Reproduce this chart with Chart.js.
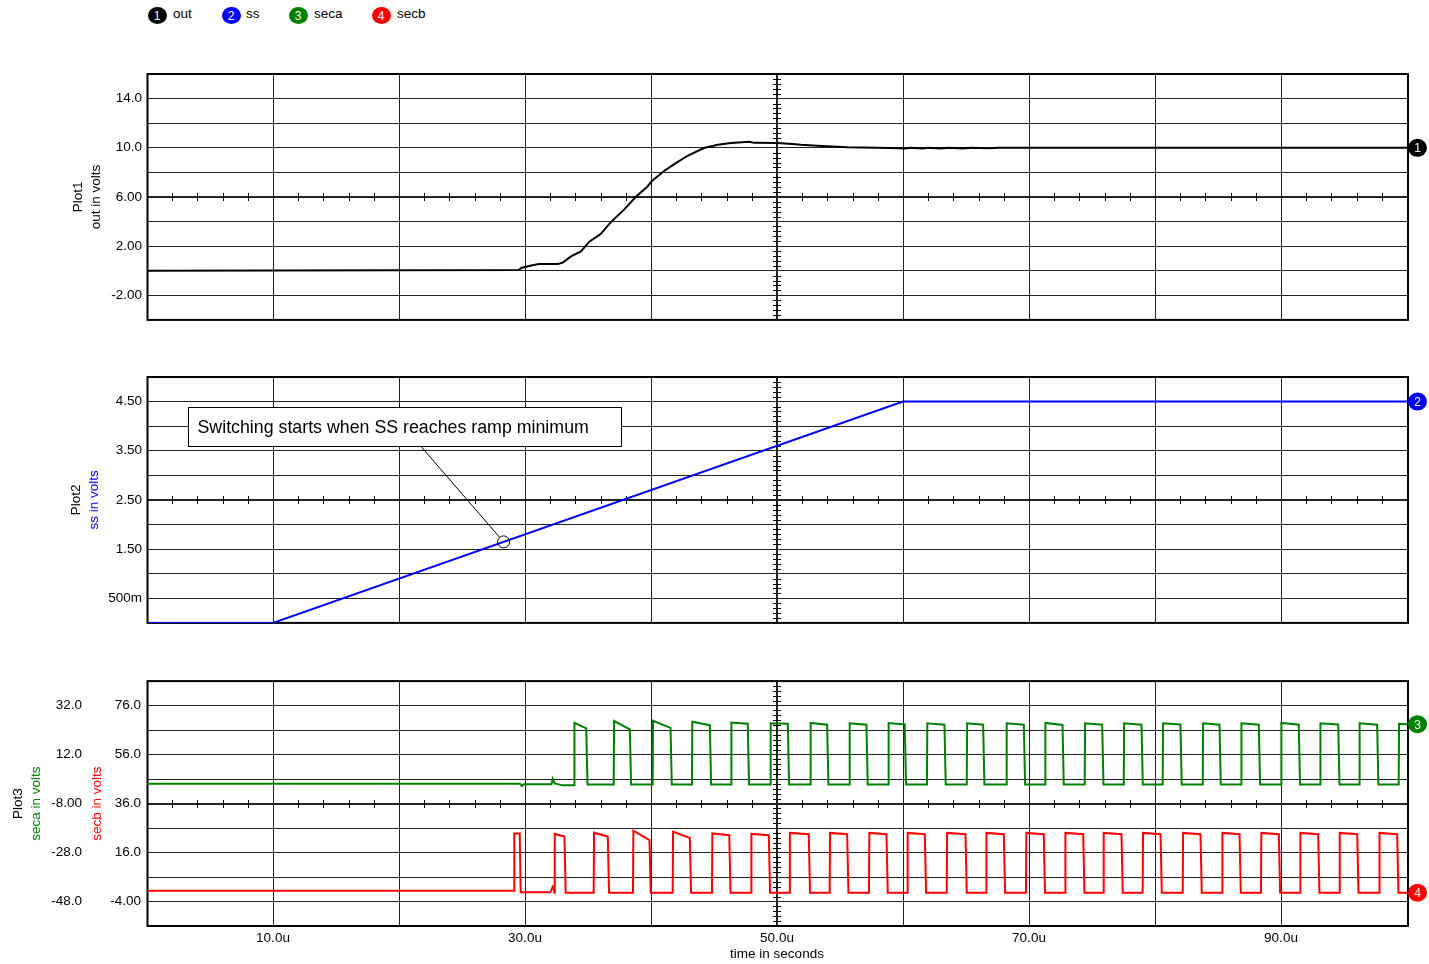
<!DOCTYPE html>
<html>
<head>
<meta charset="utf-8">
<title>Soft-start transient</title>
<script src="https://cdn.jsdelivr.net/npm/chart.js@4.4.0/dist/chart.umd.min.js"></script>
<style>
  html, body { margin: 0; padding: 0; background: #fff; }
  body { width: 1429px; height: 964px; position: relative; overflow: hidden;
         font-family: "Liberation Sans", Arial, sans-serif; }
  canvas { position: absolute; left: 0; }
  .lg-dot { position: absolute; width: 19px; height: 17px; border-radius: 50%;
            color: #fff; font-size: 12px; line-height: 18px; text-align: center; }
  .lg-txt { position: absolute; font-size: 13.5px; line-height: 18px; color: #000; }
</style>
</head>
<body>
<div id="legend"></div>
<canvas id="plot1" width="1429" height="273" style="top:60px"></canvas>
<canvas id="plot2" width="1429" height="273" style="top:363px"></canvas>
<canvas id="plot3" width="1429" height="297" style="top:667px"></canvas>
<script>
// ---------------- series values (time in µs, values in volts) ----------------
const seriesNames  = ['out', 'ss', 'seca', 'secb'];
const seriesColors = ['#000000', '#0000ff', '#008000', '#ff0000'];

// output voltage
const outTime  = [0, 29.5, 29.7, 30.5, 31.1, 32.6, 33.0, 33.65, 34.44, 35.1, 36.0, 36.8, 37.9, 38.8,
                  39.7, 40.1, 41.06, 41.85, 42.9, 44.2, 45.3, 46.35, 47.8, 48.2, 50.05, 51.2, 51.9,
                  53.2, 55.6, 59.0, 60.2, 60.6, 61.5, 62.0, 63.0, 63.6, 64.8, 65.4, 66.8, 67.6, 100];
const outVolts = [0, 0.05, 0.22, 0.43, 0.54, 0.54, 0.67, 1.17, 1.57, 2.36, 2.98, 3.93, 5.01, 6.02,
                  6.83, 7.32, 8.13, 8.67, 9.35, 9.98, 10.24, 10.38, 10.49, 10.4, 10.38, 10.3, 10.24,
                  10.16, 10.05, 9.98, 9.94, 10.0, 9.94, 10.0, 9.94, 10.0, 9.95, 10.0, 9.96, 10.0, 10.0];

// soft-start ramp
const ssTime  = [0, 10, 60, 100];
const ssVolts = [0, 0, 4.5, 4.5];

// secondary winding A
const secaLeadTime  = [0, 29.6, 29.76, 29.9, 32.1, 32.2, 32.35, 33.0, 33.89];
const secaLeadVolts = [0.08, 0.08, -0.86, -0.16, -0.16, 2.1, 0.24, -0.57, -0.57];
const secaRise = [33.91, 37.04, 40.13, 43.25, 46.35, 49.47, 52.64, 55.74, 58.83, 61.90, 65.06,
                  68.20, 71.27, 74.42, 77.52, 80.61, 83.79, 86.83, 90.00, 93.10, 96.21, 99.34];
const secaFall = [34.90, 38.36, 41.59, 44.71, 47.72, 50.90, 54.02, 57.14, 60.18, 63.33, 66.40,
                  69.63, 72.70, 75.85, 78.97, 82.06, 85.16, 88.28, 91.45, 94.58, 97.67];
const secaTopStart = [25.0, 25.7, 25.8, 25.4, 25.1, 24.8, 24.9, 24.8, 24.9, 24.8, 24.8,
                      24.8, 24.9, 24.8, 24.8, 24.8, 24.8, 24.8, 24.9, 24.8, 24.8, 24.6];
const secaTopEnd   = [22.7, 22.3, 22.9, 24.0, 24.6, 24.6, 24.2, 24.2, 24.3, 24.2, 24.2,
                      24.2, 24.1, 24.2, 24.2, 24.3, 24.2, 24.2, 24.2, 24.3, 24.2, 24.4];
const secaLow = -0.2;

// secondary winding B
const secbLeadTime  = [0, 29.13, 29.15, 29.58, 29.66, 32.0, 32.2, 32.3];
const secbLeadVolts = [0.4, 0.4, 23.8, 23.8, -0.24, -0.24, 2.0, 0.5];
const secbRise = [32.33, 35.45, 38.57, 41.72, 44.84, 47.94, 50.99, 54.18, 57.30, 60.34, 63.47,
                  66.59, 69.76, 72.86, 75.90, 79.02, 82.20, 85.32, 88.41, 91.51, 94.63, 97.79];
const secbFall = [33.17, 36.61, 39.92, 43.12, 46.25, 49.39, 52.56, 55.61, 58.73, 61.77, 65.00,
                  68.04, 71.21, 74.34, 77.38, 80.48, 83.65, 86.75, 89.87, 92.99, 96.09, 99.26];
const secbTopStart = [23.6, 24.1, 24.9, 24.5, 23.8, 23.6, 24.0, 24.0, 24.0, 24.0, 24.0,
                      24.0, 24.0, 24.0, 24.0, 24.0, 24.0, 24.0, 24.0, 24.0, 24.0, 24.0];
const secbTopEnd   = [22.5, 22.5, 21.1, 22.0, 23.1, 23.1, 23.5, 23.5, 23.5, 23.5, 23.5,
                      23.5, 23.5, 23.5, 23.5, 23.5, 23.5, 23.5, 23.5, 23.5, 23.5, 23.5];
const secbLow = -0.4;

// labelled tick values
const timeLabels = [10, 30, 50, 70, 90];
const outLabels  = [14, 10, 6, 2, -2];
const ssLabels   = [4.5, 3.5, 2.5, 1.5, 0.5];
const secaLabels = [32, 12, -8, -28, -48];
const secbLabels = [76, 56, 36, 16, -4];

// callout on the soft-start plot (time / volt coordinates)
const note = {
  text: 'Switching starts when SS reaches ramp minimum',
  left: 3.25, right: 37.6, top: 4.39, bottom: 3.6,
  pointTime: 28.3, leaderTime: 21.75
};

// ---------------- helpers ----------------
const FONT = '"Liberation Sans", Arial, sans-serif';
Chart.defaults.font.family = FONT;
Chart.defaults.font.size = 13.5;
Chart.defaults.color = '#000';

const zip = (xs, ys) => xs.map((x, i) => ({ x: x, y: ys[i] }));

function pulseTrain(leadT, leadV, rises, falls, topStart, topEnd, low, tEnd) {
  const pts = zip(leadT, leadV);
  rises.forEach((r, i) => {
    pts.push({ x: r, y: low });
    pts.push({ x: r + 0.03, y: topStart[i] });
    if (i < falls.length) {
      pts.push({ x: falls[i] - 0.04, y: topEnd[i] });
      pts.push({ x: falls[i] + 0.06, y: low });
    } else {
      pts.push({ x: tEnd, y: topEnd[i] });
    }
  });
  if (falls.length >= rises.length) pts.push({ x: tEnd, y: low });
  return pts;
}

function interp(xs, ys, x) {
  for (let i = 1; i < xs.length; i++) {
    if (x <= xs[i]) {
      const f = (x - xs[i - 1]) / (xs[i] - xs[i - 1]);
      return ys[i - 1] + f * (ys[i] - ys[i - 1]);
    }
  }
  return ys[ys.length - 1];
}

function fmt(v) {
  if (v !== 0 && Math.abs(v) < 1) return (v * 1000).toPrecision(3) + 'm';
  return v.toPrecision(3);
}
const hasValue = (list, v) => list.some(l => Math.abs(l - v) < 1e-9);

const GRID = '#222';

function xScale(showLabels) {
  return {
    type: 'linear', min: 0, max: 100,
    ticks: {
      stepSize: 10, display: showLabels, autoSkip: false, maxRotation: 0, padding: 4,
      callback: v => hasValue(timeLabels, v) ? v.toFixed(1) + 'u' : ''
    },
    grid: {
      color: GRID, drawTicks: false,
      lineWidth: c => (c.tick && Math.abs(c.tick.value - 50) < 1e-9) ? 2 : 1
    },
    border: { display: false },
    title: { display: showLabels, text: 'time in seconds', padding: { top: 0, bottom: 2 } },
    afterFit: s => { s.height = showLabels ? 38 : 0; }
  };
}

function yScale(min, max, step, labels, center, width, pad, weight, showGrid) {
  return {
    type: 'linear', position: 'left', min: min, max: max, weight: weight,
    ticks: {
      stepSize: step, padding: pad, autoSkip: false,
      callback: v => hasValue(labels, v) ? fmt(v) : ''
    },
    grid: {
      display: showGrid, color: GRID, drawTicks: false,
      lineWidth: c => (c.tick && Math.abs(c.tick.value - center) < 1e-9) ? 2 : 1
    },
    border: { display: false },
    afterFit: s => { s.width = width; }
  };
}

// oscilloscope-style frame, centre cross ticks, end markers, side titles, callout
const scopePlugin = {
  id: 'scope',
  beforeDatasetsDraw(chart, args, opts) {
    const { ctx, chartArea: a } = chart;
    const xs = chart.scales.x, ys = chart.scales[opts.yAxis];
    const cy = Math.round(ys.getPixelForValue(opts.yCenter));
    const cx = Math.round(xs.getPixelForValue(50));
    ctx.save();
    ctx.strokeStyle = '#000';
    ctx.lineWidth = 1;
    ctx.beginPath();
    for (let i = 1; i < 50; i++) {
      if (i % 5 === 0) continue;
      const px = Math.round(xs.getPixelForValue(i * 2)) + 0.5;
      ctx.moveTo(px, cy - 4); ctx.lineTo(px, cy + 4);
    }
    const n = 50;
    const minorStep = (ys.max - ys.min) / n;
    for (let i = 1; i < n; i++) {
      if (i % 5 === 0) continue;
      const py = Math.round(ys.getPixelForValue(ys.min + i * minorStep)) + 0.5;
      ctx.moveTo(cx - 4, py); ctx.lineTo(cx + 4, py);
    }
    ctx.stroke();

    // frame (traces are drawn on top of it)
    ctx.lineWidth = 2;
    ctx.strokeRect(a.left + 0.5, a.top, a.right - a.left + 0.5, a.bottom - a.top);
    ctx.restore();
  },
  afterDraw(chart, args, opts) {
    const { ctx, chartArea: a } = chart;
    ctx.save();

    // callout
    if (opts.note) {
      const nt = opts.note;
      const xs = chart.scales.x, ys = chart.scales[opts.yAxis];
      const l = Math.round(xs.getPixelForValue(nt.left)) + 0.5;
      const r = Math.round(xs.getPixelForValue(nt.right)) + 0.5;
      const t = Math.round(ys.getPixelForValue(nt.top)) + 0.5;
      const b = Math.round(ys.getPixelForValue(nt.bottom)) + 0.5;
      const px = xs.getPixelForValue(nt.pointTime);
      const py = ys.getPixelForValue(interp(ssTime, ssVolts, nt.pointTime));
      const lx = xs.getPixelForValue(nt.leaderTime);
      const ang = Math.atan2(py - b, px - lx);
      const rad = 6;
      ctx.strokeStyle = '#000';
      ctx.lineWidth = 1;
      ctx.beginPath();
      ctx.moveTo(lx, b);
      ctx.lineTo(px - rad * Math.cos(ang), py - rad * Math.sin(ang));
      ctx.stroke();
      ctx.beginPath();
      ctx.arc(px, py, rad, 0, Math.PI * 2);
      ctx.stroke();
      ctx.fillStyle = '#fff';
      ctx.fillRect(l, t, r - l, b - t);
      ctx.strokeRect(l, t, r - l, b - t);
      ctx.fillStyle = '#000';
      ctx.font = '17.8px ' + FONT;
      ctx.textAlign = 'left';
      ctx.textBaseline = 'middle';
      ctx.fillText(nt.text, l + 9, (t + b) / 2 + 1);
    }

    // end-of-trace markers
    (opts.markers || []).forEach(m => {
      const ds = chart.data.datasets[m.dataset];
      const last = ds.data[ds.data.length - 1];
      const ys = chart.scales[ds.yAxisID || 'y'];
      const y = ys.getPixelForValue(last.y);
      const x = a.right + 10.5;
      ctx.fillStyle = ds.borderColor;
      ctx.beginPath();
      ctx.ellipse(x, y, 9.5, 9, 0, 0, Math.PI * 2);
      ctx.fill();
      ctx.fillStyle = '#fff';
      ctx.font = '12px ' + FONT;
      ctx.textAlign = 'center';
      ctx.textBaseline = 'middle';
      ctx.fillText(m.label, x, y + 1);
    });

    // rotated axis titles
    const cyTitle = (a.top + a.bottom) / 2;
    (opts.titles || []).forEach(tt => {
      ctx.save();
      ctx.translate(tt.x, cyTitle);
      ctx.rotate(-Math.PI / 2);
      ctx.fillStyle = tt.color;
      ctx.font = '13.5px ' + FONT;
      ctx.textAlign = 'center';
      ctx.textBaseline = 'middle';
      ctx.fillText(tt.text, 0, 0);
      ctx.restore();
    });
    ctx.restore();
  }
};

function lineDataset(label, color, data, yAxisID) {
  return {
    label: label, data: data, yAxisID: yAxisID,
    borderColor: color, backgroundColor: color, borderWidth: 2,
    pointRadius: 0, tension: 0, fill: false
  };
}

const baseOptions = (padTop, padBottom) => ({
  responsive: false, animation: false, events: [],
  layout: { padding: { top: padTop, right: 22, bottom: padBottom, left: 0 } }
});

// ---------------- legend ----------------
const legendDots = [157, 231, 298, 381];
const legendText = [173, 246, 314, 397];
const legendEl = document.getElementById('legend');
seriesNames.forEach((name, i) => {
  const d = document.createElement('div');
  d.className = 'lg-dot';
  d.style.left = (legendDots[i] - 9.5) + 'px';
  d.style.top = '6.5px';
  d.style.background = seriesColors[i];
  d.textContent = String(i + 1);
  legendEl.appendChild(d);
  const t = document.createElement('div');
  t.className = 'lg-txt';
  t.style.left = legendText[i] + 'px';
  t.style.top = '5px';
  t.textContent = name;
  legendEl.appendChild(t);
});

// ---------------- Plot1: out ----------------
new Chart(document.getElementById('plot1'), {
  type: 'line',
  data: { datasets: [lineDataset('out', seriesColors[0], zip(outTime, outVolts), 'y')] },
  options: Object.assign(baseOptions(14, 10), {
    scales: { x: xScale(false), y: yScale(-4, 16, 2, outLabels, 6, 147, 5, 0, true) },
    plugins: {
      legend: { display: false }, tooltip: { enabled: false },
      scope: {
        yAxis: 'y', yCenter: 6,
        markers: [{ dataset: 0, label: '1' }],
        titles: [{ text: 'Plot1', color: '#000', x: 78 }, { text: 'out in volts', color: '#000', x: 96 }]
      }
    }
  }),
  plugins: [scopePlugin]
});

// ---------------- Plot2: ss ----------------
new Chart(document.getElementById('plot2'), {
  type: 'line',
  data: { datasets: [lineDataset('ss', seriesColors[1], zip(ssTime, ssVolts), 'y')] },
  options: Object.assign(baseOptions(14, 10), {
    scales: { x: xScale(false), y: yScale(0, 5, 0.5, ssLabels, 2.5, 147, 5, 0, true) },
    plugins: {
      legend: { display: false }, tooltip: { enabled: false },
      scope: {
        yAxis: 'y', yCenter: 2.5, note: note,
        markers: [{ dataset: 0, label: '2' }],
        titles: [{ text: 'Plot2', color: '#000', x: 76 }, { text: 'ss in volts', color: seriesColors[1], x: 94 }]
      }
    }
  }),
  plugins: [scopePlugin]
});

// ---------------- Plot3: seca / secb ----------------
new Chart(document.getElementById('plot3'), {
  type: 'line',
  data: {
    datasets: [
      lineDataset('seca', seriesColors[2],
        pulseTrain(secaLeadTime, secaLeadVolts, secaRise, secaFall, secaTopStart, secaTopEnd, secaLow, 100), 'ya'),
      lineDataset('secb', seriesColors[3],
        pulseTrain(secbLeadTime, secbLeadVolts, secbRise, secbFall, secbTopStart, secbTopEnd, secbLow, 100), 'yb')
    ]
  },
  options: Object.assign(baseOptions(14, 0), {
    scales: {
      x: xScale(true),
      ya: yScale(-58, 42, 10, secaLabels, -8, 87, 5, 1, true),
      yb: yScale(-14, 86, 10, secbLabels, 36, 60, 6, 0, false)
    },
    plugins: {
      legend: { display: false }, tooltip: { enabled: false },
      scope: {
        yAxis: 'ya', yCenter: -8,
        markers: [{ dataset: 0, label: '3' }, { dataset: 1, label: '4' }],
        titles: [
          { text: 'Plot3', color: '#000', x: 18 },
          { text: 'seca in volts', color: seriesColors[2], x: 36 },
          { text: 'secb in volts', color: seriesColors[3], x: 97 }
        ]
      }
    }
  }),
  plugins: [scopePlugin]
});
</script>
</body>
</html>
